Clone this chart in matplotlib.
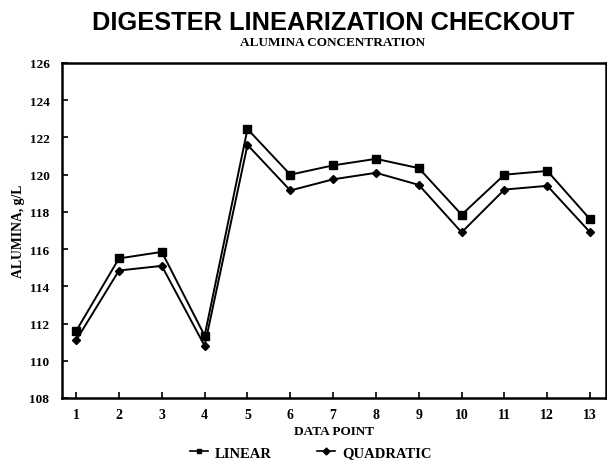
import numpy as np
import matplotlib.pyplot as plt

points = np.arange(1, 14)
linear = [111.6, 115.5, 115.85, 111.35, 122.45, 120.0, 120.5, 120.85,
          120.35, 117.85, 120.0, 120.2, 117.6]
quadratic = [111.1, 114.85, 115.1, 110.8, 121.6, 119.15, 119.75, 120.1,
             119.45, 116.9, 119.2, 119.4, 116.9]

serif = ['Liberation Serif', 'DejaVu Serif']

fig = plt.figure(figsize=(6.07, 4.64), dpi=100)
ax = fig.add_axes([62 / 607, 1 - 399 / 464, 544 / 607, 335 / 464])

ax.plot(points, linear, color='black', lw=1.4, marker='s', ms=5.5,
        label='LINEAR')
ax.plot(points, quadratic, color='black', lw=1.4, marker='D', ms=4,
        label='QUADRATIC')

ax.set_xlim(0.67, 13.37)
ax.set_ylim(108, 126)
ax.set_xticks(points)
ax.set_yticks(np.arange(108, 127, 2))
ax.tick_params(direction='in', length=4, width=1.2)
ax.tick_params(axis='x', labelsize=10, pad=7)
ax.tick_params(axis='y', labelsize=9.5, pad=9)
for lab in ax.get_xticklabels() + ax.get_yticklabels():
    lab.set_family(serif)
    lab.set_weight('bold')
for s in ax.spines.values():
    s.set_linewidth(1.8)

ax.set_xlabel('DATA POINT', family=serif, fontweight='bold', fontsize=9.5,
              labelpad=3)
ax.set_ylabel('ALUMINA, g/L', family=serif, fontweight='bold', fontsize=9.8,
              labelpad=3)

fig.text(333 / 607, 1 - 11 / 464, 'DIGESTER LINEARIZATION CHECKOUT',
         ha='center', va='top', family='Liberation Sans', fontweight='bold',
         fontsize=18.3)
fig.text(333 / 607, 1 - 43 / 464, 'ALUMINA CONCENTRATION', ha='center',
         va='center', family=serif, fontweight='bold', fontsize=9.5)

leg = fig.legend(loc='center', bbox_to_anchor=(311 / 607, 1 - 454 / 464),
                 ncol=2, frameon=False, handlelength=1.2, handletextpad=0.5,
                 columnspacing=3.1,
                 prop={'family': serif, 'weight': 'bold', 'size': 10.5})
for h in leg.legend_handles:
    h.set_markersize(3.5)
    h.set_linewidth(1.2)

fig.savefig('out.png', dpi=100)
